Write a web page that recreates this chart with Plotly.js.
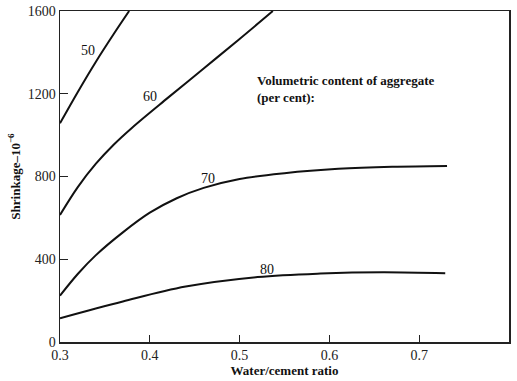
<!DOCTYPE html>
<html>
<head>
<meta charset="utf-8">
<script src="https://cdn.plot.ly/plotly-3.0.1.min.js"></script>
<style>html,body{margin:0;padding:0;background:#fff;}#chart{width:517px;height:381px;}</style>
</head>
<body>
<div id="chart"></div>
<script>
// Water/cement ratio vs shrinkage (x 10^-6) for aggregate contents
const x50 = [0.300, 0.320, 0.340, 0.360, 0.377];
const y50 = [1057, 1210, 1355, 1490, 1600];
const x60 = [0.300, 0.320, 0.340, 0.360, 0.380, 0.420, 0.460, 0.500, 0.537];
const y60 = [614, 750, 862, 955, 1035, 1180, 1322, 1465, 1600];
const x70 = [0.300, 0.320, 0.340, 0.370, 0.400, 0.430, 0.460, 0.500, 0.550, 0.610, 0.670, 0.731];
const y70 = [224, 330, 420, 530, 625, 695, 745, 788, 816, 837, 847, 851];
const x80 = [0.300, 0.370, 0.440, 0.520, 0.590, 0.660, 0.729];
const y80 = [115, 196, 268, 314, 331, 337, 332];
const curveNames = ["50", "60", "70", "80"];
const xTicks = [0.3, 0.4, 0.5, 0.6, 0.7, 0.8];
const xTickText = ["0.3", "0.4", "0.5", "0.6", "0.7", "0.8"];
const yTicks = [0, 400, 800, 1200, 1600];
const yTickText = ["0", "400", "800", "1200", "1600"];

const xs = [x50, x60, x70, x80];
const ys = [y50, y60, y70, y80];
const traces = xs.map((xv, i) => ({
  x: xv, y: ys[i], name: curveNames[i], type: 'scatter', mode: 'lines',
  line: {color: '#111', width: 2, shape: 'spline', smoothing: 1},
  hoverinfo: 'skip', showlegend: false
}));

const serif = 'Liberation Serif, Times New Roman, serif';
const labelPos = [[0.3316, 1411], [0.4003, 1189], [0.4653, 788], [0.5303, 352]];
const annotations = curveNames.map((n, i) => ({
  x: labelPos[i][0], y: labelPos[i][1], xref: 'x', yref: 'y', text: n,
  showarrow: false, font: {family: serif, size: 14, color: '#111'}
}));
annotations.push({
  x: 0.517, y: 1223, xref: 'x', yref: 'y', xanchor: 'left', yanchor: 'middle', align: 'left',
  text: '<b>Volumetric content of aggregate<br>(per cent):</b>', showarrow: false,
  font: {family: serif, size: 13, color: '#111'}
});

const layout = {
  width: 517, height: 381,
  margin: {l: 60, r: 8, t: 11, b: 39},
  paper_bgcolor: '#fff', plot_bgcolor: '#fff',
  showlegend: false,
  font: {family: serif, size: 14, color: '#222'},
  xaxis: {
    range: [0.3, 0.8], tickvals: xTicks, ticktext: xTickText,
    showgrid: false, zeroline: false, showline: true, mirror: true,
    linecolor: '#222', linewidth: 1.5,
    ticks: 'inside', ticklen: 7, tickcolor: '#222', tickwidth: 1,
    tickfont: {family: serif, size: 14, color: '#222'},
    title: {text: '<b>Water/cement ratio</b>', font: {family: serif, size: 13, color: '#111'}, standoff: 3}
  },
  yaxis: {
    range: [0, 1600], tickvals: yTicks, ticktext: yTickText,
    showgrid: false, zeroline: false, showline: true, mirror: true,
    linecolor: '#222', linewidth: 1.5,
    ticks: 'inside', ticklen: 8, tickcolor: '#222', tickwidth: 1,
    tickfont: {family: serif, size: 14, color: '#222'},
    title: {text: '<b>Shrinkage–10<sup>−6</sup></b>', font: {family: serif, size: 13, color: '#111'}, standoff: 4}
  },
  annotations: annotations
};

Plotly.newPlot('chart', traces, layout, {displayModeBar: false, staticPlot: true});
</script>
</body>
</html>
